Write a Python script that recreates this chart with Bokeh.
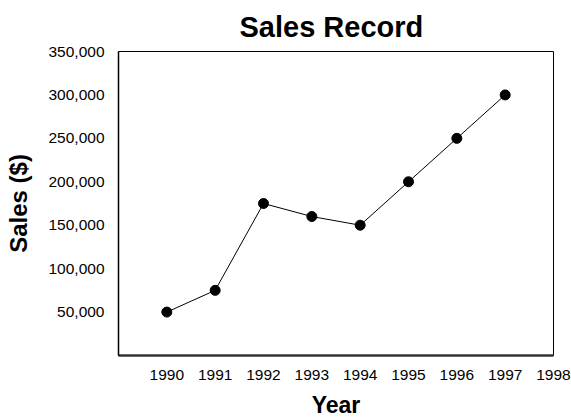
from bokeh.plotting import figure
from bokeh.models import FixedTicker, NumeralTickFormatter, Range1d
from bokeh.embed import file_html
from bokeh.resources import INLINE

years = [1990, 1991, 1992, 1993, 1994, 1995, 1996, 1997]
sales = [50000, 75000, 175000, 160000, 150000, 200000, 250000, 300000]
x_ticks = [1990, 1991, 1992, 1993, 1994, 1995, 1996, 1997, 1998]
y_ticks = [50000, 100000, 150000, 200000, 250000, 300000, 350000]

FONT = "Liberation Sans"

p = figure(width=571, height=420, output_backend="svg", toolbar_location=None,
           title="Sales Record",
           x_range=Range1d(1989, 1998), y_range=Range1d(0, 350000),
           min_border_left=118, min_border_right=18, min_border_top=50, min_border_bottom=65)

p.title.align = "left"
p.title.offset = 121
p.title.standoff = 17
p.title.text_font = FONT
p.title.text_font_size = "29px"
p.title.text_font_style = "bold"
p.title.text_color = "black"

p.outline_line_color = "black"
p.outline_line_width = 1
p.xgrid.visible = False
p.ygrid.visible = False

p.line(years, sales, line_color="black", line_width=1)
p.scatter(years, sales, size=10, fill_color="black", line_color="black")

for ax in (p.xaxis[0], p.yaxis[0]):
    ax.major_tick_line_color = None
    ax.minor_tick_line_color = None
    ax.major_tick_out = 0
    ax.major_tick_in = 0
    ax.major_label_text_font = FONT
    ax.major_label_text_font_size = "15.5px"
    ax.major_label_text_color = "black"
    ax.axis_label_text_font = FONT
    ax.axis_label_text_font_style = "bold"
    ax.axis_label_text_color = "black"

p.xaxis.ticker = FixedTicker(ticks=x_ticks)
p.yaxis.ticker = FixedTicker(ticks=y_ticks)
p.yaxis.formatter = NumeralTickFormatter(format="0,0")
p.xaxis.axis_label = "Year"
p.yaxis.axis_label = "Sales ($)"
p.xaxis.axis_label_text_font_size = "23px"
p.yaxis.axis_label_text_font_size = "24px"
p.xaxis.major_label_standoff = 14
p.yaxis.major_label_standoff = 14
p.xaxis.axis_label_standoff = 9
p.yaxis.axis_label_standoff = 13
p.xaxis.axis_line_color = "#333333"
p.xaxis.axis_line_width = 2.5
p.yaxis.axis_line_color = "black"
p.yaxis.axis_line_width = 1.5

open("out.html", "w").write(file_html(p, INLINE))
